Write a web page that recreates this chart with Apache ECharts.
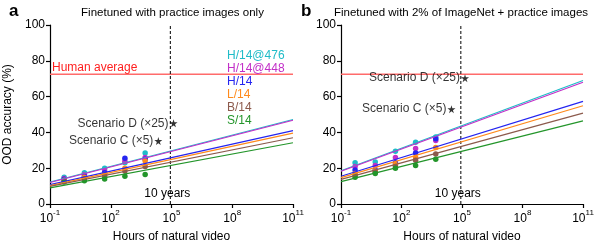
<!DOCTYPE html>
<html><head><meta charset="utf-8">
<script src="https://cdn.jsdelivr.net/npm/echarts@6/dist/echarts.min.js"></script>
<style>html,body{margin:0;padding:0;background:#fff}#c{width:598px;height:248px}</style>
</head><body><div id="c"></div>
<script>
// ---- data ----
const models = ['H/14@476', 'H/14@448', 'H/14', 'L/14', 'B/14', 'S/14'];
const modelColors = ['#1fbcc8', '#c22fc8', '#2525f0', '#ff8a1c', '#8c5a4c', '#23952a'];
const hours = [0.5, 5, 50, 500, 5000];
const xTickExponents = [-1, 2, 5, 8, 11];
const yTicks = [0, 20, 40, 60, 80, 100];

// panel a: finetuned with practice images only
const a_H476 = [15.0, 17.5, 20.0, 23.0, 28.5];
const a_H448 = [14.3, 16.5, 18.5, 24.0, 26.0];
const a_H14  = [13.8, 15.5, 17.5, 25.5, 25.0];
const a_L14  = [13.3, 15.0, 16.5, 20.0, 24.0];
const a_B14  = [12.8, 14.0, 15.5, 18.5, 21.0];
const a_S14  = [12.3, 13.0, 14.0, 15.5, 16.5];
const a_fitStart = [12.3, 12.0, 10.8, 10.3, 9.8, 9.0];   // at 1e-1 h
const a_fitEnd   = [47.2, 46.8, 41.0, 39.6, 37.0, 34.2]; // at 1e11 h
const a_scenarioHours = [22400, 126000];
const a_scenarioAcc = [35.2, 45.1];

// panel b: finetuned with 2% of ImageNet + practice images
const b_H476 = [23.0, 23.5, 29.5, 34.5, 37.5];
const b_H448 = [21.0, 21.5, 26.0, 31.0, 35.5];
const b_H14  = [19.0, 19.0, 23.0, 28.5, 36.5];
const b_L14  = [17.0, 18.5, 22.0, 26.0, 31.5];
const b_B14  = [16.0, 17.8, 21.0, 24.5, 28.0];
const b_S14  = [15.0, 17.0, 20.0, 21.5, 25.0];
const b_fitStart = [18.6, 18.3, 15.5, 14.7, 13.8, 12.5];
const b_fitEnd   = [69.0, 68.0, 57.3, 54.9, 50.8, 46.4];
const b_scenarioHours = [30000, 141000];
const b_scenarioAcc = [53.0, 70.3];

const scenarioNames = ['Scenario C (\u00d75)', 'Scenario D (\u00d725)'];
const fitHours = [0.1, 1e11];
const humanAverage = 72.5;
const tenYearsHours = 87600;

// ---- build ----
const FONT = '"Liberation Sans", Arial, Helvetica, sans-serif';
const lg = Math.log10;
const STAR = 'path://M50,0 L61,35 L98,35 L68,57 L79,91 L50,70 L21,91 L32,57 L2,35 L39,35 Z';

const panels = [
  {acc: [a_H476, a_H448, a_H14, a_L14, a_B14, a_S14], fs: a_fitStart, fe: a_fitEnd, sh: a_scenarioHours, sa: a_scenarioAcc, humanLabel: true},
  {acc: [b_H476, b_H448, b_H14, b_L14, b_B14, b_S14], fs: b_fitStart, fe: b_fitEnd, sh: b_scenarioHours, sa: b_scenarioAcc, humanLabel: false}
];

const series = [];
panels.forEach((p, pi) => {
  // human average line
  const humanSeries = {
    type: 'line', xAxisIndex: pi, yAxisIndex: pi, silent: true, z: 1,
    showSymbol: false, symbol: 'none',
    lineStyle: {color: '#ff6b6b', width: 1.5},
    data: [[lg(fitHours[0]), humanAverage], [lg(fitHours[1]), humanAverage]]
  };
  if (p.humanLabel) {
    humanSeries.markPoint = {
      silent: true, symbol: 'rect', symbolSize: 0, animation: false,
      data: [{coord: [lg(fitHours[0]), humanAverage],
        label: {show: true, formatter: 'Human average', position: [2, -13], color: '#ff1f1f', fontSize: 12, fontFamily: FONT}}]
    };
  }
  series.push(humanSeries);
  // 10-year dashed line
  series.push({
    type: 'line', xAxisIndex: pi, yAxisIndex: pi, silent: true, z: 1,
    showSymbol: false, symbol: 'none',
    lineStyle: {color: '#000', width: 1, type: [3, 2]},
    data: [[lg(tenYearsHours), 0], [lg(tenYearsHours), 100]],
    markPoint: {
      silent: true, symbol: 'rect', symbolSize: 0, animation: false,
      data: [{coord: [lg(tenYearsHours), 6], label: {show: true, formatter: '10 years', position: 'inside', color: '#000', fontSize: 12, fontFamily: FONT, offset: [-3, 0]}}]
    }
  });
  models.forEach((m, i) => {
    series.push({
      name: m, type: 'scatter', xAxisIndex: pi, yAxisIndex: pi, z: 2,
      symbolSize: 5.5, itemStyle: {color: modelColors[i], opacity: 1},
      data: hours.map((h, k) => [lg(h), p.acc[i][k]])
    });
  });
  models.forEach((m, i) => {
    series.push({
      name: m, type: 'line', xAxisIndex: pi, yAxisIndex: pi, z: 3,
      showSymbol: false, symbol: 'none',
      lineStyle: {color: modelColors[i], width: 1.2},
      itemStyle: {color: modelColors[i]},
      data: [[lg(fitHours[0]), p.fs[i]], [lg(fitHours[1]), p.fe[i]]]
    });
  });
  series.push({
    type: 'scatter', xAxisIndex: pi, yAxisIndex: pi, z: 4,
    symbol: STAR, symbolSize: 8, itemStyle: {color: '#000'},
    label: {show: true, position: 'left', distance: 1, color: '#000', fontSize: 12, fontFamily: FONT, formatter: prm => scenarioNames[prm.dataIndex]},
    data: p.sh.map((h, k) => [lg(h), p.sa[k]])
  });
});

const xAxisBase = (gi) => ({
  type: 'value', gridIndex: gi, min: -1, max: 11, interval: 3,
  splitLine: {show: false},
  axisLine: {show: true, onZero: false, lineStyle: {color: '#000', width: 1.2}},
  axisTick: {show: true, length: 4, lineStyle: {color: '#000', width: 1.2}},
  axisLabel: {
    margin: 5, color: '#000',
    formatter: v => '{b|10}{s|' + v + '}',
    rich: {
      b: {fontSize: 12, fontFamily: FONT, color: '#000', verticalAlign: 'bottom', lineHeight: 16},
      s: {fontSize: 8, fontFamily: FONT, color: '#000', verticalAlign: 'top', lineHeight: 16}
    }
  },
  name: 'Hours of natural video', nameLocation: 'middle', nameGap: 27,
  nameTextStyle: {color: '#000', fontSize: 12, fontFamily: FONT}
});
const yAxisBase = (gi, withName) => ({
  type: 'value', gridIndex: gi, min: 0, max: 100, interval: 20,
  splitLine: {show: false},
  axisLine: {show: true, onZero: false, lineStyle: {color: '#000', width: 1.2}},
  axisTick: {show: true, length: 4, lineStyle: {color: '#000', width: 1.2}},
  axisLabel: {margin: 5, color: '#000', fontSize: 12, fontFamily: FONT},
  name: withName ? 'OOD accuracy (%)' : '', nameLocation: 'middle', nameGap: 36,
  nameTextStyle: {color: '#000', fontSize: 12, fontFamily: FONT}
});

const chart = echarts.init(document.getElementById('c'), null, {renderer: 'canvas'});
chart.setOption({
  animation: false,
  backgroundColor: '#fff',
  textStyle: {fontFamily: FONT},
  grid: [
    {left: 50, right: 305, top: 25, bottom: 42},
    {left: 341, right: 15, top: 25, bottom: 42}
  ],
  xAxis: [xAxisBase(0), xAxisBase(1)],
  yAxis: [yAxisBase(0, true), yAxisBase(1, false)],
  legend: {
    orient: 'vertical', left: 222, top: 50, padding: 0,
    icon: 'none', itemWidth: 0, itemHeight: 12, itemGap: 1,
    selectedMode: false,
    textStyle: {fontSize: 12, fontFamily: FONT},
    data: models.map((m, i) => ({name: m, textStyle: {color: modelColors[i]}}))
  },
  graphic: [
    {type: 'text', left: 9, top: 3, style: {text: 'a', fontSize: 17, fontWeight: 'bold', fontFamily: FONT, fill: '#000'}},
    {type: 'text', left: 301, top: 3, style: {text: 'b', fontSize: 17, fontWeight: 'bold', fontFamily: FONT, fill: '#000'}},
    {type: 'text', x: 172.5, y: 13, style: {text: 'Finetuned with practice images only', fontSize: 11.5, fontFamily: FONT, fill: '#000', align: 'center', verticalAlign: 'middle'}},
    {type: 'text', x: 461, y: 13, style: {text: 'Finetuned with 2% of ImageNet + practice images', fontSize: 11.5, fontFamily: FONT, fill: '#000', align: 'center', verticalAlign: 'middle'}}
  ],
  series: series
});
</script>
</body></html>
